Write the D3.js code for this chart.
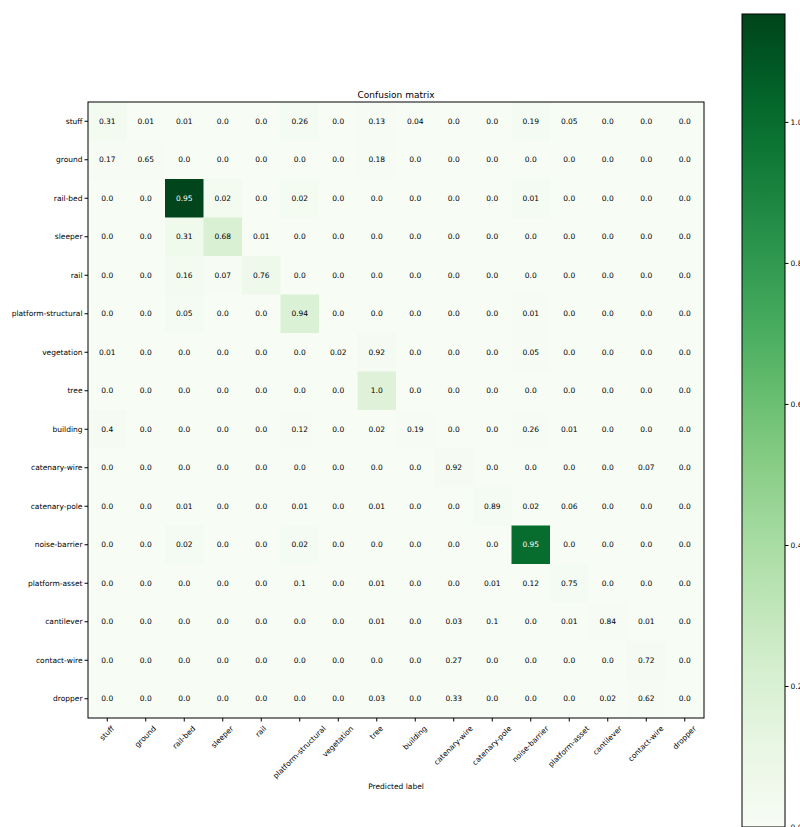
<!DOCTYPE html>
<html>
  <head>
    <meta charset="UTF-8">
    <title>Confusion matrix</title>
    <script src="https://d3js.org/d3.v7.min.js"></script>
    <style>
      body { margin: 0; background: #fff; }
      text { font-family: "DejaVu Sans", sans-serif; fill: #000; }
    </style>
  </head>
  <body>
    <svg width="800" height="827"></svg>

    <script>

const labels = [
  "stuff", "ground", "rail-bed", "sleeper", "rail", "platform-structural",
  "vegetation", "tree", "building", "catenary-wire", "catenary-pole",
  "noise-barrier", "platform-asset", "cantilever", "contact-wire", "dropper"
];

// normalized values printed in the cells (row = true label)
const values = [
  [0.31, 0.01, 0.01, 0.0, 0.0, 0.26, 0.0, 0.13, 0.04, 0.0, 0.0, 0.19, 0.05, 0.0, 0.0, 0.0],
  [0.17, 0.65, 0.0, 0.0, 0.0, 0.0, 0.0, 0.18, 0.0, 0.0, 0.0, 0.0, 0.0, 0.0, 0.0, 0.0],
  [0.0, 0.0, 0.95, 0.02, 0.0, 0.02, 0.0, 0.0, 0.0, 0.0, 0.0, 0.01, 0.0, 0.0, 0.0, 0.0],
  [0.0, 0.0, 0.31, 0.68, 0.01, 0.0, 0.0, 0.0, 0.0, 0.0, 0.0, 0.0, 0.0, 0.0, 0.0, 0.0],
  [0.0, 0.0, 0.16, 0.07, 0.76, 0.0, 0.0, 0.0, 0.0, 0.0, 0.0, 0.0, 0.0, 0.0, 0.0, 0.0],
  [0.0, 0.0, 0.05, 0.0, 0.0, 0.94, 0.0, 0.0, 0.0, 0.0, 0.0, 0.01, 0.0, 0.0, 0.0, 0.0],
  [0.01, 0.0, 0.0, 0.0, 0.0, 0.0, 0.02, 0.92, 0.0, 0.0, 0.0, 0.05, 0.0, 0.0, 0.0, 0.0],
  [0.0, 0.0, 0.0, 0.0, 0.0, 0.0, 0.0, 1.0, 0.0, 0.0, 0.0, 0.0, 0.0, 0.0, 0.0, 0.0],
  [0.4, 0.0, 0.0, 0.0, 0.0, 0.12, 0.0, 0.02, 0.19, 0.0, 0.0, 0.26, 0.01, 0.0, 0.0, 0.0],
  [0.0, 0.0, 0.0, 0.0, 0.0, 0.0, 0.0, 0.0, 0.0, 0.92, 0.0, 0.0, 0.0, 0.0, 0.07, 0.0],
  [0.0, 0.0, 0.01, 0.0, 0.0, 0.01, 0.0, 0.01, 0.0, 0.0, 0.89, 0.02, 0.06, 0.0, 0.0, 0.0],
  [0.0, 0.0, 0.02, 0.0, 0.0, 0.02, 0.0, 0.0, 0.0, 0.0, 0.0, 0.95, 0.0, 0.0, 0.0, 0.0],
  [0.0, 0.0, 0.0, 0.0, 0.0, 0.1, 0.0, 0.01, 0.0, 0.0, 0.01, 0.12, 0.75, 0.0, 0.0, 0.0],
  [0.0, 0.0, 0.0, 0.0, 0.0, 0.0, 0.0, 0.01, 0.0, 0.03, 0.1, 0.0, 0.01, 0.84, 0.01, 0.0],
  [0.0, 0.0, 0.0, 0.0, 0.0, 0.0, 0.0, 0.0, 0.0, 0.27, 0.0, 0.0, 0.0, 0.0, 0.72, 0.0],
  [0.0, 0.0, 0.0, 0.0, 0.0, 0.0, 0.0, 0.03, 0.0, 0.33, 0.0, 0.0, 0.0, 0.02, 0.62, 0.0]
];

// cell colour level, read against the colorbar (does not follow the printed values)
const shade = [
  [0.03, 0, 0, 0, 0, 0.02, 0, 0.01, 0, 0, 0, 0.02, 0, 0, 0, 0],
  [0.01, 0.01, 0, 0, 0, 0, 0, 0.01, 0, 0, 0, 0, 0, 0, 0, 0],
  [0, 0, 1.15, 0.03, 0, 0.025, 0, 0, 0, 0, 0, 0.02, 0, 0, 0, 0],
  [0, 0, 0.06, 0.2, 0, 0, 0, 0, 0, 0, 0, 0, 0, 0, 0, 0],
  [0, 0, 0.03, 0.01, 0.07, 0, 0, 0, 0, 0, 0, 0, 0, 0, 0, 0],
  [0, 0, 0.02, 0, 0, 0.19, 0, 0, 0, 0, 0, 0.01, 0, 0, 0, 0],
  [0, 0, 0, 0, 0, 0, 0, 0.015, 0, 0, 0, 0.005, 0, 0, 0, 0],
  [0, 0, 0, 0, 0, 0, 0, 0.17, 0, 0, 0, 0, 0, 0, 0, 0],
  [0.015, 0, 0, 0, 0, 0.005, 0, 0, 0.005, 0, 0, 0.01, 0, 0, 0, 0],
  [0, 0, 0, 0, 0, 0, 0, 0, 0, 0.015, 0, 0, 0, 0, 0, 0],
  [0, 0, 0, 0, 0, 0, 0, 0, 0, 0, 0.02, 0, 0, 0, 0, 0],
  [0, 0, 0.02, 0, 0, 0.02, 0, 0, 0, 0, 0, 1.0, 0, 0, 0, 0],
  [0, 0, 0, 0, 0, 0, 0, 0, 0, 0, 0, 0, 0.02, 0, 0, 0],
  [0, 0, 0, 0, 0, 0, 0, 0, 0, 0, 0, 0, 0, 0.005, 0, 0],
  [0, 0, 0, 0, 0, 0, 0, 0, 0, 0, 0, 0, 0, 0, 0.015, 0],
  [0, 0, 0, 0, 0, 0, 0, 0, 0, 0, 0, 0, 0, 0, 0.005, 0]
];

const colorTicks = [0.0, 0.2, 0.4, 0.6, 0.8, 1.0];
const colorMax = 1.153;

const svg = d3.select("svg");

const plot = { left: 88, top: 102, size: 616 };
const fontSize = 7.5;

const x = d3.scaleBand().domain(labels).range([plot.left, plot.left + plot.size]);
const y = d3.scaleBand().domain(labels).range([plot.top, plot.top + plot.size]);
const color = d3.scaleSequential(d3.interpolateGreens).domain([0, colorMax]);

const cells = [];
values.forEach((row, i) => {
  row.forEach((v, j) => {
    cells.push({ r: labels[i], c: labels[j], v: v, s: shade[i][j] });
  });
});

const fmt = v => Number.isInteger(Math.round(v * 100) / 10) ? v.toFixed(1) : String(v);

svg.append("g")
  .selectAll("rect")
  .data(cells)
  .join("rect")
  .attr("x", d => x(d.c))
  .attr("y", d => y(d.r))
  .attr("width", x.bandwidth() + 0.5)
  .attr("height", y.bandwidth() + 0.5)
  .attr("fill", d => color(d.s));

svg.append("g")
  .selectAll("text")
  .data(cells)
  .join("text")
  .attr("x", d => x(d.c) + x.bandwidth() / 2)
  .attr("y", d => y(d.r) + y.bandwidth() / 2)
  .attr("text-anchor", "middle")
  .attr("dominant-baseline", "central")
  .attr("font-size", fontSize)
  .style("fill", d => d.s > colorMax / 2 ? "#fff" : "#000")
  .text(d => fmt(d.v));

// frame
svg.append("rect")
  .attr("x", plot.left)
  .attr("y", plot.top)
  .attr("width", plot.size)
  .attr("height", plot.size)
  .attr("fill", "none")
  .attr("stroke", "#000")
  .attr("stroke-width", 1);

const yAxis = svg.append("g")
  .attr("transform", `translate(${plot.left},0)`)
  .call(d3.axisLeft(y).tickSize(3.5).tickPadding(2));
yAxis.select(".domain").remove();
yAxis.selectAll("text").attr("font-size", fontSize).attr("font-family", "DejaVu Sans");

const xAxis = svg.append("g")
  .attr("transform", `translate(0,${plot.top + plot.size})`)
  .call(d3.axisBottom(x).tickSize(3.5).tickPadding(3.5));
xAxis.select(".domain").remove();

// rotated labels, bounding box centred under the tick (matplotlib rotation=45)
const asc = 0.76 * fontSize, desc = 0.24 * fontSize;
xAxis.selectAll("text")
  .attr("font-size", fontSize)
  .attr("font-family", "DejaVu Sans")
  .attr("text-anchor", "end")
  .attr("dy", null)
  .each(function() {
    const w = this.getComputedTextLength();
    const ex = 0.354 * (w + asc - desc);
    const ey = 7 + 0.707 * asc;
    d3.select(this)
      .attr("x", 0).attr("y", 0)
      .attr("transform", `translate(${ex},${ey}) rotate(-45)`);
  });

svg.append("text")
  .attr("x", plot.left + plot.size / 2)
  .attr("y", plot.top - 4)
  .attr("text-anchor", "middle")
  .attr("font-size", 9)
  .text("Confusion matrix");

svg.append("text")
  .attr("x", plot.left + plot.size / 2)
  .attr("y", 789)
  .attr("text-anchor", "middle")
  .attr("font-size", fontSize)
  .text("Predicted label");

// colorbar (runs off the right and bottom edges, as in the original figure)
const bar = { left: 742, width: 43, top: 14, bottom: 827 };
const cy = d3.scaleLinear().domain([0, colorMax]).range([bar.bottom, bar.top]);

const grad = svg.append("defs").append("linearGradient")
  .attr("id", "greens")
  .attr("x1", 0).attr("y1", 1).attr("x2", 0).attr("y2", 0);
d3.range(0, 1.0001, 0.05).forEach(t => {
  grad.append("stop").attr("offset", t).attr("stop-color", d3.interpolateGreens(t));
});

svg.append("rect")
  .attr("x", bar.left)
  .attr("y", bar.top)
  .attr("width", bar.width)
  .attr("height", bar.bottom - bar.top)
  .attr("fill", "url(#greens)")
  .attr("stroke", "#000")
  .attr("stroke-width", 1);

const cAxis = svg.append("g")
  .attr("transform", `translate(${bar.left + bar.width},0)`)
  .call(d3.axisRight(cy).tickValues(colorTicks).tickFormat(d3.format(".1f")).tickSize(3.5).tickPadding(2));
cAxis.select(".domain").remove();
cAxis.selectAll("text").attr("font-size", fontSize).attr("font-family", "DejaVu Sans");

    </script>
  </body>
</html>
